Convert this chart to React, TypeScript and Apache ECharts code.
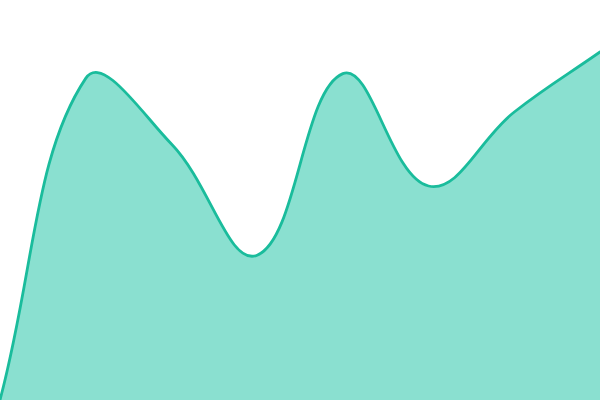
import React, { useEffect, useRef } from "react";
import * as echarts from "echarts";

const categories = ["A", "B", "C", "D", "E", "F", "G", "H"];
const values = [0, 80.4, 64, 36.2, 81.6, 53.5, 72, 87];

const TENSION = 0.4;

// spline through the points (tension-based, distance weighted control points)
const buildPath = (pts: number[][], bottom: number) => {
  const n = pts.length;
  const cps: { prev: number[]; next: number[] }[] = [];
  for (let i = 0; i < n; i++) {
    const p0 = pts[Math.max(i - 1, 0)];
    const p1 = pts[i];
    const p2 = pts[Math.min(i + 1, n - 1)];
    const d01 = Math.hypot(p1[0] - p0[0], p1[1] - p0[1]);
    const d12 = Math.hypot(p2[0] - p1[0], p2[1] - p1[1]);
    const sum = d01 + d12 || 1;
    const fa = (TENSION * d01) / sum;
    const fb = (TENSION * d12) / sum;
    cps.push({
      prev: [p1[0] - fa * (p2[0] - p0[0]), p1[1] - fa * (p2[1] - p0[1])],
      next: [p1[0] + fb * (p2[0] - p0[0]), p1[1] + fb * (p2[1] - p0[1])],
    });
  }
  let line = `M${pts[0][0]},${pts[0][1]}`;
  for (let i = 1; i < n; i++) {
    const a = cps[i - 1].next;
    const b = cps[i].prev;
    line += ` C${a[0]},${a[1]} ${b[0]},${b[1]} ${pts[i][0]},${pts[i][1]}`;
  }
  const area =
    line + ` L${pts[n - 1][0]},${bottom} L${pts[0][0]},${bottom} Z`;
  return { line, area };
};

const App: React.FC = () => {
  const chartRef = useRef<HTMLDivElement>(null);

  useEffect(() => {
    if (!chartRef.current) return;
    const chart = echarts.init(chartRef.current, undefined, { renderer: "svg" });

    const option: echarts.EChartsOption = {
      animation: false,
      grid: { left: 0, right: 0, top: 0, bottom: 0 },
      xAxis: {
        type: "category",
        data: categories,
        boundaryGap: false,
        show: false,
      },
      yAxis: {
        type: "value",
        min: 0,
        max: 100,
        show: false,
      },
      series: [
        {
          type: "custom",
          data: values.map((v, i) => [i, v]),
          renderItem: (params: any, api: any) => {
            if (params.dataIndex !== 0) return null;
            const pts = values.map((v, i) => api.coord([i, v]));
            const bottom = api.coord([0, 0])[1];
            const { line, area } = buildPath(pts, bottom);
            return {
              type: "group",
              children: [
                {
                  type: "path",
                  shape: { pathData: area },
                  style: { fill: "#8ae0d0", stroke: "none" },
                },
                {
                  type: "path",
                  shape: { pathData: line },
                  style: {
                    fill: "none",
                    stroke: "#1abc9c",
                    lineWidth: 2.8,
                    lineJoin: "round",
                    lineCap: "round",
                  },
                },
              ],
            };
          },
        } as any,
      ],
    };

    chart.setOption(option);
    return () => chart.dispose();
  }, []);

  return (
    <div
      ref={chartRef}
      style={{ position: "fixed", left: 0, top: 0, width: 600, height: 400 }}
    />
  );
};

export default App;
